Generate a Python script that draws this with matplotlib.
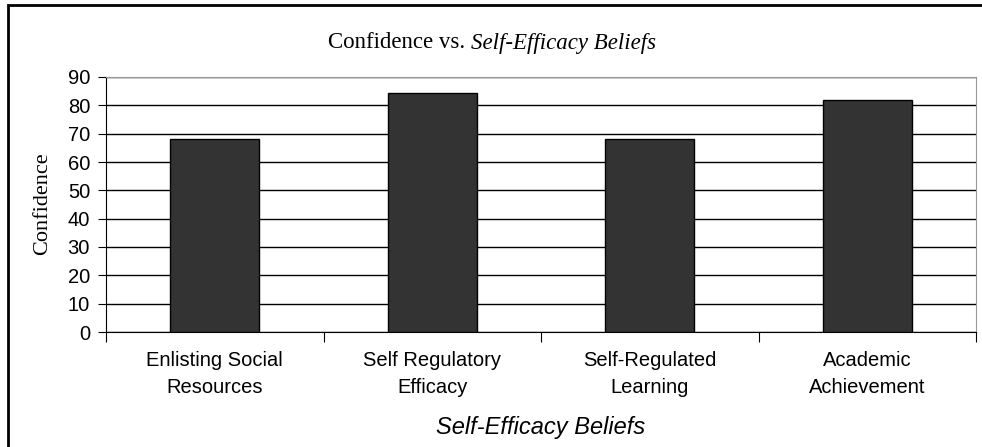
import matplotlib.pyplot as plt
from matplotlib.patches import Rectangle
import numpy as np

categories = ["Enlisting Social\nResources", "Self Regulatory\nEfficacy",
              "Self-Regulated\nLearning", "Academic\nAchievement"]
confidence = [68, 84.2, 68, 82]
yticks = np.arange(0, 100, 10)

W, H = 982, 447
fig = plt.figure(figsize=(W / 100, H / 100), dpi=100)
ax = fig.add_axes([106 / W, 1 - 332 / H, (976 - 106) / W, (332 - 77) / H])

x = np.arange(len(categories))
ax.bar(x, confidence, width=0.41, color="#333333", edgecolor="black",
       linewidth=1, zorder=3)

ax.set_xlim(-0.5, len(categories) - 0.5)
ax.set_ylim(0, 90)
ax.set_yticks(yticks)
ax.set_yticklabels([str(v) for v in yticks], fontsize=14.5,
                   family="Liberation Sans")
ax.yaxis.grid(True, color="black", linewidth=1, zorder=0)

# category labels sit between the boundary ticks
ax.set_xticks(np.arange(-0.5, len(categories), 1.0))
ax.set_xticklabels([])
ax.set_xticks(x, minor=True)
ax.set_xticklabels(categories, minor=True, fontsize=14.5,
                   family="Liberation Sans", linespacing=1.5)
ax.tick_params(axis="x", which="minor", length=0, pad=14)
ax.tick_params(axis="x", which="major", length=7, direction="out")
ax.tick_params(axis="y", length=6, direction="out", pad=5.5)

for s in ["left", "bottom"]:
    ax.spines[s].set_color("black")
for s in ["top", "right"]:
    ax.spines[s].set_color("#999999")

fig.text(43 / W, 1 - 204 / H, "Confidence", rotation=90, ha="center",
         va="center", family="Liberation Serif", fontsize=16)
fig.text(541 / W, 1 - 434 / H, "Self-Efficacy Beliefs", ha="center",
         va="baseline", family="Liberation Sans", fontsize=17,
         style="italic")

# title in two styles
fig.text(465 / W, 1 - 48.5 / H, "Confidence vs.", ha="right",
         va="baseline", family="Liberation Serif", fontsize=16.5)
fig.text(471 / W, 1 - 48.5 / H, "Self-Efficacy Beliefs", ha="left",
         va="baseline", family="Liberation Serif", fontsize=16.5,
         style="italic")

# outer chart frame
fig.patches.append(Rectangle((8 / W, -0.1), 1.2, 1 - 5 / H + 0.1,
                             transform=fig.transFigure, fill=False,
                             edgecolor="black", linewidth=2))

fig.savefig("out.png", dpi=100)
plt.close(fig)
